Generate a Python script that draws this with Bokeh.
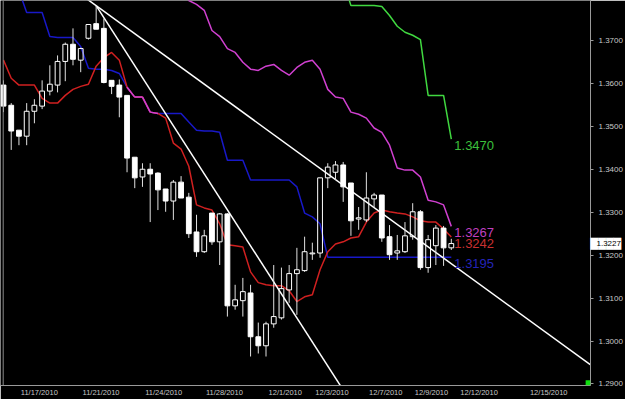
import math
from bokeh.plotting import figure
from bokeh.models import (Range1d, FixedTicker, NumeralTickFormatter, Span,
                          LinearAxis, BoxAnnotation)
from bokeh.embed import file_html
from bokeh.resources import INLINE
from bokeh.core.properties import value

# ---- data (EUR/USD style candles, one per bar index) ----
opens = [1.3596, 1.3549, 1.3491, 1.3477, 1.3535, 1.3547, 1.3582, 1.3596, 1.3651, 1.3691,
         1.3654, 1.3705, 1.3739, 1.3728, 1.3607, 1.3596, 1.3572, 1.3428, 1.3382, 1.3400,
         1.3391, 1.3354, 1.3326, 1.3370, 1.3335, 1.3254, 1.3208, 1.3298, 1.3231, 1.3296,
         1.3082, 1.3094, 1.3112, 1.3010, 1.2989, 1.3040, 1.3054, 1.3119, 1.3157, 1.3164,
         1.3203, 1.3205, 1.3380, 1.3393, 1.3410, 1.3368, 1.3284, 1.3282, 1.3331, 1.3340,
         1.3243, 1.3205, 1.3208, 1.3243, 1.3301, 1.3171, 1.3222, 1.3263, 1.3217]
highs = [1.3607, 1.3554, 1.3491, 1.3554, 1.3563, 1.3607, 1.3642, 1.3665, 1.3695, 1.3728,
         1.3683, 1.3737, 1.3781, 1.3751, 1.3607, 1.3609, 1.3572, 1.3428, 1.3414, 1.3414,
         1.3393, 1.3354, 1.3375, 1.3384, 1.3345, 1.3294, 1.3259, 1.3298, 1.3298, 1.3298,
         1.3131, 1.3147, 1.3131, 1.3043, 1.3045, 1.3177, 1.3171, 1.3177, 1.3217, 1.3243,
         1.3229, 1.3380, 1.3414, 1.3419, 1.3417, 1.3368, 1.3312, 1.3393, 1.3345, 1.3340,
         1.3270, 1.3247, 1.3277, 1.3321, 1.3305, 1.3247, 1.3270, 1.3268, 1.3238]
lows = [1.3533, 1.3445, 1.3456, 1.3456, 1.3507, 1.3540, 1.3572, 1.3579, 1.3605, 1.3642,
        1.3626, 1.3702, 1.3726, 1.3600, 1.3575, 1.3521, 1.3393, 1.3356, 1.3359, 1.3277,
        1.3305, 1.3301, 1.3282, 1.3333, 1.3240, 1.3196, 1.3205, 1.3224, 1.3177, 1.3057,
        1.3073, 1.3057, 1.2964, 1.2971, 1.2964, 1.3031, 1.3050, 1.3089, 1.3061, 1.3161,
        1.3189, 1.3194, 1.3356, 1.3375, 1.3324, 1.3245, 1.3259, 1.3277, 1.3310, 1.3231,
        1.3189, 1.3189, 1.3205, 1.3236, 1.3166, 1.3159, 1.3177, 1.3175, 1.3212]
closes = [1.3547, 1.3489, 1.3477, 1.3535, 1.3549, 1.3582, 1.3598, 1.3651, 1.3691, 1.3656,
          1.3681, 1.3737, 1.3726, 1.3602, 1.3593, 1.3568, 1.3426, 1.3380, 1.3400, 1.3389,
          1.3352, 1.3326, 1.3370, 1.3333, 1.3250, 1.3208, 1.3245, 1.3231, 1.3296, 1.3082,
          1.3096, 1.3115, 1.3010, 1.2989, 1.3040, 1.3057, 1.3122, 1.3157, 1.3166, 1.3208,
          1.3205, 1.3380, 1.3405, 1.3410, 1.3359, 1.3280, 1.3287, 1.3333, 1.3340, 1.3240,
          1.3201, 1.3210, 1.3245, 1.3301, 1.3171, 1.3236, 1.3263, 1.3217, 1.3227]

NA = float("nan")
tenkan = [1.3654, 1.3612, 1.3596, 1.3596, 1.3596, 1.3565, 1.3554, 1.3554, 1.3572, 1.3586,
          1.3593, 1.3598, 1.3640, 1.3660, 1.3672, 1.3654, 1.3591, 1.3568, 1.3568, 1.3533,
          1.3530, 1.3519, 1.3461, 1.3447, 1.3407, 1.3317, 1.3310, 1.3305, 1.3273, 1.3224,
          1.3222, 1.3219, 1.3161, 1.3136, 1.3131, 1.3129, 1.3129, 1.3117, 1.3092, 1.3103,
          1.3108, 1.3166, 1.3208, 1.3226, 1.3231, 1.3240, 1.3243, 1.3277, 1.3298, 1.3305,
          1.3301, 1.3298, 1.3296, 1.3289, 1.3280, 1.3277, 1.3277, 1.3261, 1.3242]
kijun = [NA, NA, 1.3816, 1.3765, 1.3765, 1.3765, 1.3709, 1.3707, 1.3707, 1.3707,
         1.3686, 1.3635, 1.3633, 1.3633, 1.3630, 1.3623, 1.3591, 1.3568, 1.3568, 1.3533,
         1.3530, 1.3530, 1.3530, 1.3530, 1.3510, 1.3491, 1.3489, 1.3489, 1.3486, 1.3421,
         1.3421, 1.3421, 1.3375, 1.3375, 1.3375, 1.3375, 1.3375, 1.3375, 1.3359, 1.3298,
         1.3289, 1.3273, 1.3195, 1.3195, 1.3195, 1.3195, 1.3195, 1.3195, 1.3195, 1.3195,
         1.3195, 1.3195, 1.3195, 1.3195, 1.3195, 1.3195, 1.3195, 1.3195, 1.3195]
span_b = [NA] * 23 + [1.3816, 1.3793, 1.3784, 1.3770, 1.3723, 1.3709, 1.3681, 1.3672,
                      1.3649, 1.3633, 1.3630, 1.3640, 1.3644, 1.3630, 1.3619, 1.3637,
                      1.3649, 1.3654, 1.3633, 1.3586, 1.3568, 1.3565, 1.3533, 1.3528,
                      1.3519, 1.3496, 1.3486, 1.3456, 1.3403, 1.3398, 1.3398, 1.3382,
                      1.3328, 1.3324, 1.3317, 1.3267]
chikou = [NA] * 44 + [1.3839, 1.3781, 1.3781, 1.3781, 1.3781, 1.3779, 1.3758, 1.3733,
                      1.3719, 1.3712, 1.3702, 1.3572, 1.3572, 1.3572, 1.3470]

# trend lines: (bar index, price) end points
trend_long = ([10, 76], [1.3807, 1.2945])
trend_steep = ([12, 44], [1.3781, 1.2886])

price_ticks = [1.29, 1.30, 1.31, 1.32, 1.33, 1.34, 1.35, 1.36, 1.37]
date_tick_pos = [2.32, 10.31, 18.43, 26.29, 34.41, 40.46, 47.42, 53.35, 59.28, 68.30]
date_tick_labels = ["11/17/2010", "11/21/2010", "11/24/2010", "11/28/2010", "12/1/2010",
                    "12/3/2010", "12/7/2010", "12/9/2010", "12/12/2010", "12/15/2010"]

idx = list(range(len(opens)))
PX_PER_BAR = 7.76

p = figure(width=625, height=399, output_backend="svg", toolbar_location=None,
           x_range=Range1d(-0.39, 76.03), y_range=Range1d(1.28965, 1.37929),
           y_axis_location="right", min_border_left=0, min_border_top=0,
           min_border_right=0, min_border_bottom=0,
           background_fill_color="black", border_fill_color="black",
           outline_line_color=None)
p.grid.visible = False

# axes
p.yaxis.ticker = FixedTicker(ticks=price_ticks)
p.yaxis.formatter = NumeralTickFormatter(format="0.0000")
# date labels are drawn starting at their tick (left aligned): shift centres by half width
lab_pos = [pos + len(lab) * 1.8 / PX_PER_BAR for pos, lab in zip(date_tick_pos, date_tick_labels)]
p.xaxis.ticker = FixedTicker(ticks=lab_pos)
p.xaxis.major_label_overrides = {pos: lab for pos, lab in zip(lab_pos, date_tick_labels)}
for ax in (p.xaxis, p.yaxis):
    ax.axis_line_color = "#9a9a9a"
    ax.major_tick_line_color = "#9a9a9a"
    ax.major_tick_out = 3
    ax.major_tick_in = 0
    ax.minor_tick_out = 0
    ax.minor_tick_in = 0
    ax.major_label_text_color = "#c8c8c8"
    ax.major_label_text_font = "Liberation Sans"
    ax.major_label_text_font_size = "8px"
p.yaxis.major_label_standoff = 5
p.xaxis.major_tick_out = 0
p.xaxis.major_label_standoff = 2
p.xaxis.major_label_text_font_size = "7.5px"


def bare_axis(tick, text, color, font, size, standoff):
    """extra right axis (about zero width) whose single label overlaps the price scale"""
    ax = LinearAxis(ticker=FixedTicker(ticks=[tick]), major_label_overrides={tick: text})
    ax.axis_line_color = None
    ax.major_tick_line_color = None
    ax.major_tick_out = 0
    ax.major_tick_in = 0
    ax.minor_tick_out = 0
    ax.minor_tick_in = 0
    ax.major_label_text_color = color
    ax.major_label_text_font = font
    ax.major_label_text_font_size = size
    ax.major_label_standoff = standoff
    return ax


# current price marker: white box with the last close in black
last_close = closes[-1]
p.add_layout(bare_axis(last_close, "\u2588\u2588\u2588\u2588", "white", "DejaVu Sans", "10px", -35), "right")
p.add_layout(bare_axis(last_close, f"{last_close:.4f}", "black", "Liberation Sans", "8px", -29), "right")

p.add_layout(Span(location=-0.04, dimension="height", line_color="#8a8a8a", line_width=1))

# indicator lines
line_cols = {"red": "#d02020", "blue": "#1818c8", "mag": "#d040d0", "green": "#40d840"}
p.line(idx, span_b, line_color=line_cols["mag"], line_width=1.5)
p.line(idx, chikou, line_color=line_cols["green"], line_width=1.5)
p.line(idx, kijun, line_color=line_cols["blue"], line_width=1.5)
p.line(idx, tenkan, line_color=line_cols["red"], line_width=1.5)
# where tenkan and kijun coincide the overlap shows magenta
ov_x0, ov_y0, ov_x1, ov_y1 = [], [], [], []
for i in range(len(idx) - 1):
    if tenkan[i] == kijun[i] and tenkan[i + 1] == kijun[i + 1]:
        ov_x0.append(i); ov_y0.append(tenkan[i]); ov_x1.append(i + 1); ov_y1.append(tenkan[i + 1])
p.segment(ov_x0, ov_y0, ov_x1, ov_y1, line_color=line_cols["mag"], line_width=1.5)

# trend lines
p.line(trend_long[0], trend_long[1], line_color="white", line_width=1.5)
p.line(trend_steep[0], trend_steep[1], line_color="white", line_width=1.5)

# candles
body_top = [max(o, c) for o, c in zip(opens, closes)]
body_bot = [min(o, c) for o, c in zip(opens, closes)]
p.segment(idx, highs, idx, body_top, line_color="#e0e0e0", line_width=1)
p.segment(idx, body_bot, idx, lows, line_color="#e0e0e0", line_width=1)
up = [i for i in idx if closes[i] >= opens[i]]
dn = [i for i in idx if closes[i] < opens[i]]
p.vbar(x=up, top=[body_top[i] for i in up], bottom=[body_bot[i] for i in up], width=0.62,
       fill_alpha=0, line_color="white", line_width=1)
p.vbar(x=dn, top=[body_top[i] for i in dn], bottom=[body_bot[i] for i in dn], width=0.62,
       fill_color="white", line_color="white", line_width=1)

# last-value labels of the indicator lines
last = len(idx) - 1
lab_specs = [(chikou[last], "#3cc03c"), (span_b[last], "#c040c0"),
             (tenkan[last], "#c83030"), (kijun[last], "#2424b8")]
p.text(x=[last] * 4, y=[v for v, _ in lab_specs], text=[f"{v:.4f}" for v, _ in lab_specs],
       text_color=[c for _, c in lab_specs], text_font=value("Liberation Sans"),
       text_font_size="13px", text_baseline="top", text_align="left", x_offset=3, y_offset=2)

# platform decoration in the frame corner
p.add_layout(BoxAnnotation(left=75.4, right=76.03, bottom=1.28965, top=1.2909,
                           fill_color="#10e010", fill_alpha=1, line_color=None))

open("out.html", "w").write(file_html(p, INLINE))
